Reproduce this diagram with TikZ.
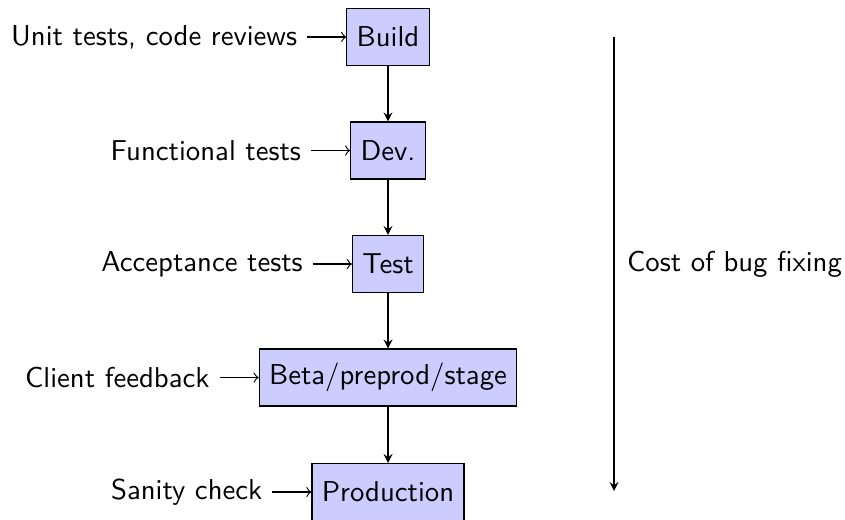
\documentclass[tikz,border=0pt]{standalone}
\usetikzlibrary{arrows}
\begin{document}
\begin{tikzpicture}[x=0.34783pt,y=-0.34783pt,
  font=\sffamily,
  stage/.style={draw, fill=blue!20, minimum height=19.8pt, inner xsep=3.4pt},
  lab/.style={anchor=east},
  feed/.style={->},
  flow/.style={-stealth}]
\useasboundingbox (0,0) rectangle (845,519);
\node[stage] (build) at (388,37) {Build};
\node[stage] (dev) at (388,150.5) {Dev.};
\node[stage] (test) at (388,264) {Test};
\node[stage] (beta) at (388,377.5) {Beta/preprod/stage};
\node[stage] (prod) at (388,492) {Production};
\node[lab] (lbuild) at ([xshift=-13.6pt]build.west) {Unit tests, code reviews};
\node[lab] (ldev) at ([xshift=-13.6pt]dev.west) {Functional tests};
\node[lab] (ltest) at ([xshift=-13.6pt]test.west) {Acceptance tests};
\node[lab] (lbeta) at ([xshift=-13.6pt]beta.west) {Client feedback};
\node[lab] (lprod) at ([xshift=-13.6pt]prod.west) {Sanity check};
\draw[feed] (lbuild) -- (build);
\draw[feed] (ldev) -- (dev);
\draw[feed] (ltest) -- (test);
\draw[feed] (lbeta) -- (beta);
\draw[feed] (lprod) -- (prod);
\draw[flow] (build) -- (dev);
\draw[flow] (dev) -- (test);
\draw[flow] (test) -- (beta);
\draw[flow] (beta) -- (prod);
\coordinate (ctop) at (614,37);
\coordinate (cbot) at (614,491);
\draw[flow] (ctop) -- (cbot) node[midway, anchor=west, xshift=1pt] (cost) {Cost of bug fixing};
\end{tikzpicture}
\end{document}
